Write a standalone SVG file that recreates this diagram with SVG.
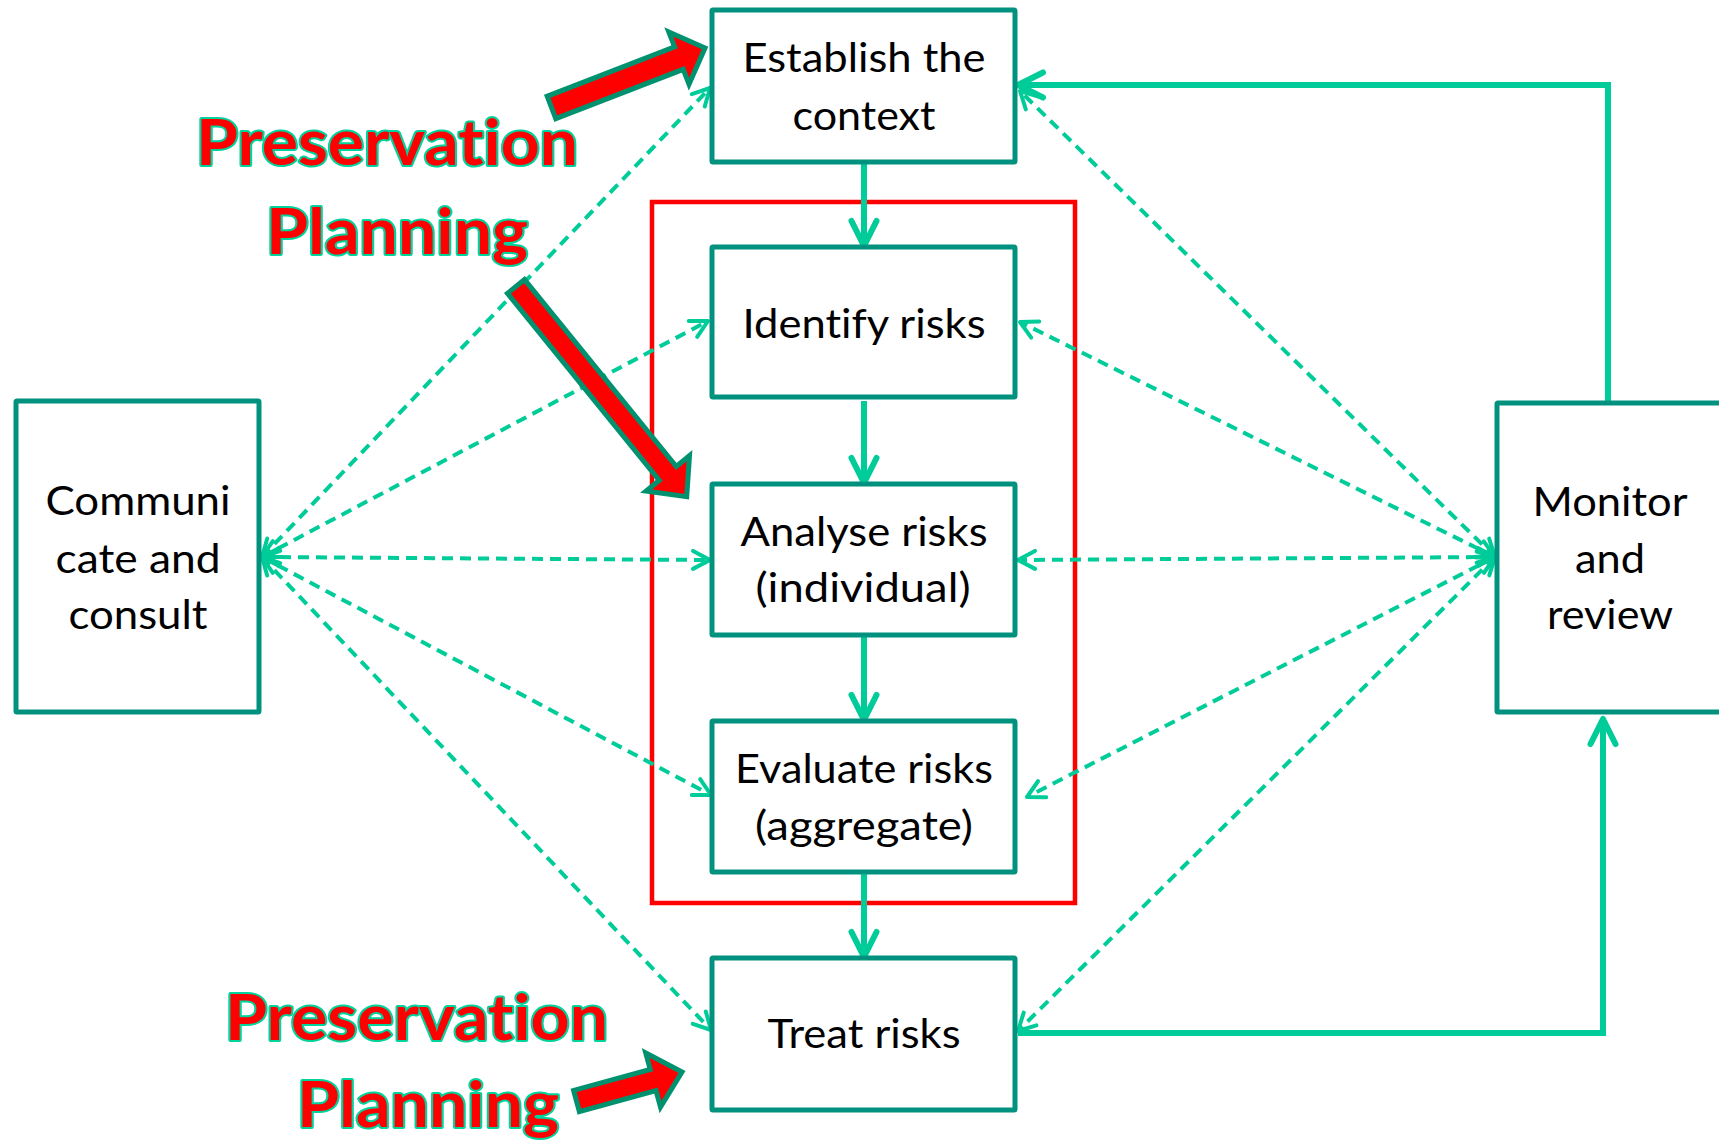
<svg xmlns="http://www.w3.org/2000/svg" width="1719" height="1140" viewBox="0 0 1719 1140">
<style>
text{font-variant-ligatures:none;font-feature-settings:"liga" 0,"clig" 0}
.box{fill:#fff;stroke:#00927E;stroke-width:5}
.lbl{font-family:Lato,"Open Sans","Liberation Sans",sans-serif;font-size:40px;fill:#000;text-anchor:middle}
.big{font-family:Lato,"Open Sans","Liberation Sans",sans-serif;font-weight:bold;font-size:64px;fill:#FF0000;stroke:#00D39C;stroke-width:4;paint-order:stroke;stroke-linejoin:round}
.solid{fill:none;stroke:#00CC99;stroke-width:6}
.dash{fill:none;stroke:#00CC99;stroke-width:4;stroke-dasharray:11 7}
.blk{fill:#FF0000;stroke:#00926F;stroke-width:5;stroke-linejoin:miter}
</style>
<defs>
<marker id="ah" markerUnits="userSpaceOnUse" orient="auto-start-reverse" refX="0" refY="0" markerWidth="10" markerHeight="10" overflow="visible">
<path d="M -25 -12.5 L 0 0 L -25 12.5" fill="none" stroke="#00CC99" stroke-width="6" stroke-linecap="round" stroke-linejoin="round"/>
</marker>
<marker id="dh" markerUnits="userSpaceOnUse" orient="auto-start-reverse" refX="0" refY="0" markerWidth="10" markerHeight="10" overflow="visible">
<path d="M -17 -9 L 0 0 L -17 9" fill="none" stroke="#00CC99" stroke-width="4" stroke-linecap="round" stroke-linejoin="round"/>
</marker>
</defs>
<rect id="scope" x="652" y="202" width="423" height="701" fill="none" stroke="#FF0000" stroke-width="4.5"/>
<g id="connectors">
<path class="solid" d="M 864 162 V 246" marker-end="url(#ah)"/>
<path class="solid" d="M 864 401 V 483" marker-end="url(#ah)"/>
<path class="solid" d="M 864 636 V 720" marker-end="url(#ah)"/>
<path class="solid" d="M 864 873 V 957" marker-end="url(#ah)"/>
<path class="solid" d="M 1608 403 V 85 H 1018" marker-end="url(#ah)"/>
<path class="solid" d="M 1018 1033 H 1603 V 719" marker-end="url(#ah)"/>
<path class="dash" d="M 262 557 L 710 88" marker-start="url(#dh)" marker-end="url(#dh)"/>
<path class="dash" d="M 262 557 L 708 321" marker-start="url(#dh)" marker-end="url(#dh)"/>
<path class="dash" d="M 262 557 L 710 560" marker-start="url(#dh)" marker-end="url(#dh)"/>
<path class="dash" d="M 262 557 L 711 795" marker-start="url(#dh)" marker-end="url(#dh)"/>
<path class="dash" d="M 262 557 L 711 1030" marker-start="url(#dh)" marker-end="url(#dh)"/>
<path class="dash" d="M 1495 557 L 1020 91" marker-start="url(#dh)" marker-end="url(#dh)"/>
<path class="dash" d="M 1495 557 L 1020 322" marker-start="url(#dh)" marker-end="url(#dh)"/>
<path class="dash" d="M 1495 557 L 1018 560" marker-start="url(#dh)" marker-end="url(#dh)"/>
<path class="dash" d="M 1495 557 L 1027 797" marker-start="url(#dh)" marker-end="url(#dh)"/>
<path class="dash" d="M 1495 557 L 1018 1031" marker-start="url(#dh)" marker-end="url(#dh)"/>
</g>
<g id="establish">
<rect class="box" x="712" y="10" width="303" height="152" rx="1"/>
<text class="lbl" x="864" y="72" textLength="243" lengthAdjust="spacingAndGlyphs">Establish the</text>
<text class="lbl" x="864" y="130" textLength="143" lengthAdjust="spacingAndGlyphs">context</text>
</g>
<g id="identify">
<rect class="box" x="712" y="247" width="303" height="150" rx="1"/>
<text class="lbl" x="864" y="338" textLength="243" lengthAdjust="spacingAndGlyphs">Identify risks</text>
</g>
<g id="analyse">
<rect class="box" x="712" y="484" width="303" height="151" rx="1"/>
<text class="lbl" x="864" y="546" textLength="247" lengthAdjust="spacingAndGlyphs">Analyse risks</text>
<text class="lbl" x="863" y="602" textLength="215" lengthAdjust="spacingAndGlyphs">(individual)</text>
</g>
<g id="evaluate">
<rect class="box" x="712" y="721" width="303" height="151" rx="1"/>
<text class="lbl" x="864" y="783" textLength="258" lengthAdjust="spacingAndGlyphs">Evaluate risks</text>
<text class="lbl" x="864" y="840" textLength="218" lengthAdjust="spacingAndGlyphs">(aggregate)</text>
</g>
<g id="treat">
<rect class="box" x="712" y="958" width="303" height="152" rx="1"/>
<text class="lbl" x="864" y="1048" textLength="193" lengthAdjust="spacingAndGlyphs">Treat risks</text>
</g>
<g id="communicate">
<rect class="box" x="16" y="401" width="243" height="311" rx="1"/>
<text class="lbl" x="138" y="515" textLength="185" lengthAdjust="spacingAndGlyphs">Communi</text>
<text class="lbl" x="138" y="573" textLength="165" lengthAdjust="spacingAndGlyphs">cate and</text>
<text class="lbl" x="138" y="629" textLength="139" lengthAdjust="spacingAndGlyphs">consult</text>
</g>
<g id="monitor">
<rect class="box" x="1497" y="403" width="230" height="309" rx="1"/>
<text class="lbl" x="1610" y="516" textLength="155" lengthAdjust="spacingAndGlyphs">Monitor</text>
<text class="lbl" x="1610" y="573" textLength="70" lengthAdjust="spacingAndGlyphs">and</text>
<text class="lbl" x="1610" y="629" textLength="126" lengthAdjust="spacingAndGlyphs">review</text>
</g>
<g id="pp-top">
<text class="big" x="196" y="165" textLength="382" lengthAdjust="spacingAndGlyphs">Preservation</text>
<text class="big" x="266" y="254" textLength="262" lengthAdjust="spacingAndGlyphs">Planning</text>
<polygon class="blk" points="555.8,118.7 683.2,69.3 689,84.2 705,48 668.8,32 674.6,46.9 547.2,96.3"/>
</g>
<g id="pp-mid">
<polygon class="blk" points="507.5,293.4 659.3,480.3 646.1,491.1 686.7,496.7 689.5,455.7 676.3,466.5 524.5,279.6"/>
</g>
<g id="pp-bottom">
<text class="big" x="225" y="1040" textLength="383" lengthAdjust="spacingAndGlyphs">Preservation</text>
<text class="big" x="297" y="1127" textLength="262" lengthAdjust="spacingAndGlyphs">Planning</text>
<polygon class="blk" points="579.4,1111.6 656,1090.6 660.5,1107 682,1072 645.7,1053 650.2,1069.4 573.6,1090.4"/>
</g>
</svg>
